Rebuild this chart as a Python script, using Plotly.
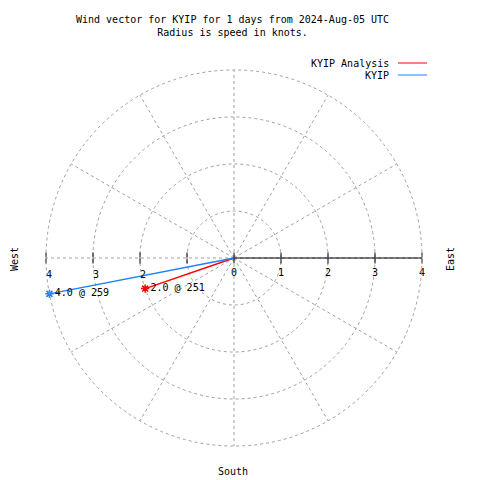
import plotly.graph_objects as go

# ---- data ----
stations = ["KYIP Analysis", "KYIP"]
speeds = [2.0, 4.0]          # knots
directions = [251, 259]      # degrees (from north, clockwise)
colors = ["#ff0000", "#1e7fff"]

title_text = "Wind vector for KYIP for 1 days from 2024-Aug-05 UTC<br>Radius is speed in knots."
right_ticks = [0, 1, 2, 3, 4]
left_ticks = [1, 2, 3, 4]
left_ticktext = ["", "2", "3", "4"]
r_max = 4

FONT = "DejaVu Sans Mono"
GRID = "#a0a0a0"
OFF = 8  # page body margin
CX, CY, R = 234, 258, 188  # pixel centre and outer radius


def px(x):
    return (x - OFF) / 480


def py(y):
    return 1 - (y - OFF) / 480


fig = go.Figure()

for name, s, d, c in zip(stations, speeds, directions, colors):
    fig.add_trace(go.Scatterpolar(
        r=[0, s], theta=[d, d], mode="lines",
        line=dict(color=c, width=1.5), name=name, showlegend=False,
        subplot="polar"))
    fig.add_trace(go.Scatterpolar(
        r=[s], theta=[d], mode="markers+text",
        marker=dict(symbol="asterisk-open", size=7, color=c, line=dict(color=c, width=1.5)),
        text=[f"{s:.1f} @ {d}"], textposition="middle right",
        textfont=dict(family=FONT, size=10, color="black"),
        showlegend=False, subplot="polar"))

dom = dict(x=[px(CX - R), px(CX + R)], y=[py(CY + R), py(CY - R)])
k = 1.05
R5 = R * k
dom5 = dict(x=[px(CX - R5), px(CX + R5)], y=[py(CY + R5), py(CY - R5)])

ang_main = dict(direction="clockwise", rotation=90, dtick=30, showgrid=True,
                gridcolor=GRID, griddash="3px,3px", gridwidth=1,
                showticklabels=False, ticks="", showline=False)
ang_hidden = dict(direction="clockwise", rotation=90, showgrid=False,
                  showticklabels=False, ticks="", showline=False)

fig.update_layout(
    width=480, height=480,
    margin=dict(l=0, r=0, t=0, b=0),
    paper_bgcolor="white",
    showlegend=False,
    polar5=dict(
        domain=dom5, bgcolor="rgba(0,0,0,0)",
        angularaxis=ang_hidden,
        radialaxis=dict(range=[0, r_max * k], tickvals=[r_max], showticklabels=False,
                        ticks="", showline=False, showgrid=True,
                        gridcolor=GRID, griddash="3px,3px"),
    ),
    polar=dict(
        domain=dom, bgcolor="rgba(0,0,0,0)",
        angularaxis=ang_main,
        radialaxis=dict(range=[0, r_max], angle=0, side="clockwise",
                        tickvals=right_ticks, ticktext=[str(v) for v in right_ticks],
                        ticks="outside", ticklen=5, tickcolor="black",
                        showline=True, linecolor="black", linewidth=1,
                        showgrid=True, gridcolor=GRID, griddash="3px,3px",
                        tickfont=dict(family=FONT, size=10, color="black"),
                        tickangle=0),
    ),
    polar2=dict(
        domain=dom, bgcolor="rgba(0,0,0,0)",
        angularaxis=ang_hidden,
        radialaxis=dict(range=[0, r_max], angle=0, side="clockwise",
                        tickvals=right_ticks, showticklabels=False,
                        ticks="inside", ticklen=5, tickcolor="black",
                        showline=False, showgrid=False),
    ),
    polar3=dict(
        domain=dom, bgcolor="rgba(0,0,0,0)",
        angularaxis=ang_hidden,
        radialaxis=dict(range=[0, r_max], angle=180, side="counterclockwise",
                        tickvals=left_ticks, ticktext=left_ticktext,
                        ticks="outside", ticklen=5, tickcolor="black",
                        showline=False, showgrid=False, tickangle=180,
                        tickfont=dict(family=FONT, size=10, color="black")),
    ),
    polar4=dict(
        domain=dom, bgcolor="rgba(0,0,0,0)",
        angularaxis=ang_hidden,
        radialaxis=dict(range=[0, r_max], angle=180, side="counterclockwise",
                        tickvals=left_ticks, showticklabels=False,
                        ticks="inside", ticklen=5, tickcolor="black",
                        showline=False, showgrid=False),
    ),
)

# invisible traces to instantiate overlay subplots
for sp in ["polar5", "polar2", "polar3", "polar4"]:
    fig.add_trace(go.Scatterpolar(r=[0], theta=[0], mode="markers",
                                  marker=dict(opacity=0), showlegend=False,
                                  hoverinfo="skip", subplot=sp))

tf = dict(family=FONT, size=10, color="black")
annotations = [
    dict(text=title_text, x=px(232), y=py(26), xref="paper", yref="paper",
         xanchor="center", yanchor="middle", showarrow=False, font=tf),
    dict(text="West", x=px(14), y=py(259), xref="paper", yref="paper",
         xanchor="center", yanchor="middle", textangle=-90, showarrow=False, font=tf),
    dict(text="East", x=px(450), y=py(259), xref="paper", yref="paper",
         xanchor="center", yanchor="middle", textangle=-90, showarrow=False, font=tf),
    dict(text="South", x=px(233), y=py(471), xref="paper", yref="paper",
         xanchor="center", yanchor="middle", showarrow=False, font=tf),
]
shapes = []
for i, (name, c) in enumerate(zip(stations, colors)):
    yy = py(63 + 12 * i)
    annotations.append(dict(text=name, x=px(391), y=yy, xref="paper", yref="paper",
                            xanchor="right", yanchor="middle", showarrow=False, font=tf))
    shapes.append(dict(type="line", xref="paper", yref="paper",
                       x0=px(398), x1=px(427), y0=yy, y1=yy,
                       line=dict(color=c, width=1)))

fig.update_layout(annotations=annotations, shapes=shapes)

fig.write_html("out.html")
